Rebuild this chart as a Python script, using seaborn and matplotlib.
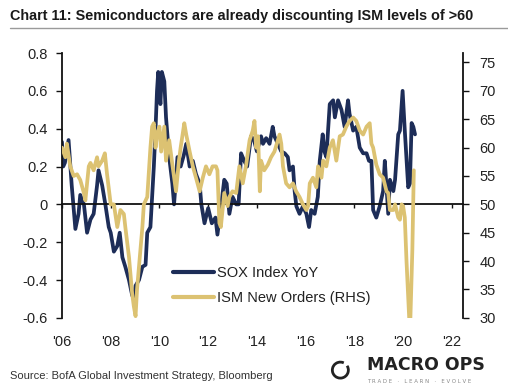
import numpy as np
import pandas as pd
import matplotlib
matplotlib.use("Agg")
import matplotlib.pyplot as plt
import seaborn as sns
from matplotlib.lines import Line2D
from matplotlib.patches import Arc
from matplotlib.ticker import FuncFormatter

sns.set_theme(style="white")
plt.rcParams['font.family'] = ['Liberation Sans', 'DejaVu Sans']

NAVY = "#1d2d58"
GOLD = "#dcc272"

# ---- data ----
sox_t = [2006.0, 2006.05, 2006.12, 2006.27, 2006.4, 2006.55, 2006.68, 2006.75, 2006.9, 2007.03,
         2007.17, 2007.3, 2007.44, 2007.5, 2007.65, 2007.78, 2007.92, 2008.0, 2008.13, 2008.27,
         2008.37, 2008.48, 2008.6, 2008.75, 2008.88, 2008.95, 2009.02, 2009.16, 2009.3, 2009.43,
         2009.5, 2009.63, 2009.77, 2009.84, 2009.9, 2009.95, 2010.04, 2010.1, 2010.2, 2010.27,
         2010.4, 2010.53, 2010.6, 2010.74, 2010.87, 2011.0, 2011.1, 2011.24, 2011.37, 2011.5,
         2011.65, 2011.72, 2011.85, 2012.0, 2012.15, 2012.3, 2012.38, 2012.52, 2012.66, 2012.76,
         2012.87, 2013.0, 2013.15, 2013.25, 2013.35, 2013.48, 2013.6, 2013.76, 2013.88, 2014.0,
         2014.17, 2014.25, 2014.38, 2014.52, 2014.65, 2014.72, 2014.86, 2015.0, 2015.14, 2015.27,
         2015.34, 2015.48, 2015.55, 2015.62, 2015.75, 2015.89, 2016.03, 2016.14, 2016.23, 2016.37,
         2016.5, 2016.58, 2016.7, 2016.77, 2016.85, 2016.99, 2017.13, 2017.2, 2017.33, 2017.47,
         2017.6, 2017.74, 2017.8, 2017.95, 2018.08, 2018.22, 2018.36, 2018.5, 2018.6, 2018.7,
         2018.77, 2018.9, 2019.04, 2019.18, 2019.25, 2019.39, 2019.46, 2019.6, 2019.67, 2019.8,
         2019.87, 2019.98, 2020.07, 2020.21, 2020.28, 2020.35, 2020.42, 2020.49]
sox_v = [0.33, 0.2, 0.22, 0.34, 0.1, -0.13, -0.05, 0.05, 0.0, -0.15,
         -0.08, -0.05, 0.1, 0.18, 0.1, 0.0, -0.12, -0.15, -0.25, -0.22,
         -0.15, -0.28, -0.33, -0.4, -0.48, -0.5, -0.43, -0.4, -0.33, -0.32,
         -0.15, -0.12, 0.2, 0.4, 0.6, 0.7, 0.53, 0.7, 0.65, 0.46,
         0.25, 0.11, 0.0, 0.25, 0.2, 0.26, 0.32, 0.2, 0.23, 0.16,
         0.11, 0.0, -0.1, -0.02, -0.1, -0.07, -0.16, -0.02, 0.13, 0.11,
         -0.05, 0.04, 0.0, 0.0, 0.27, 0.23, 0.2, 0.36, 0.34, 0.28,
         0.36, 0.32, 0.35, 0.32, 0.41, 0.36, 0.32, 0.28, 0.27, 0.25,
         0.18, 0.2, 0.07, -0.01, -0.05, -0.01, -0.05, -0.12, -0.03, -0.05,
         0.04, 0.23, 0.37, 0.28, 0.25, 0.53, 0.55, 0.46, 0.55, 0.5,
         0.41, 0.55, 0.48, 0.39, 0.41, 0.3, 0.27, 0.27, 0.23, 0.23,
         -0.03, -0.07, -0.01, 0.07, 0.23, -0.05, 0.13, 0.07, 0.13, 0.37,
         0.39, 0.6, 0.39, 0.09, 0.11, 0.43, 0.41, 0.37]

ism_t = [2006.0, 2006.14, 2006.2, 2006.34, 2006.48, 2006.62, 2006.75, 2006.9, 2006.96, 2007.1,
         2007.17, 2007.3, 2007.44, 2007.5, 2007.65, 2007.76, 2007.85, 2008.0, 2008.13, 2008.27,
         2008.4, 2008.54, 2008.6, 2008.75, 2008.88, 2008.95, 2009.02, 2009.08, 2009.16, 2009.3,
         2009.36, 2009.5, 2009.63, 2009.7, 2009.77, 2009.84, 2009.9, 2010.0, 2010.07, 2010.2,
         2010.27, 2010.4, 2010.53, 2010.68, 2010.8, 2010.87, 2011.02, 2011.1, 2011.24, 2011.37,
         2011.5, 2011.65, 2011.78, 2011.91, 2012.05, 2012.18, 2012.32, 2012.38, 2012.46, 2012.52,
         2012.66, 2012.8, 2012.87, 2013.0, 2013.15, 2013.28, 2013.42, 2013.56, 2013.7, 2013.83,
         2013.9, 2013.97, 2014.05, 2014.12, 2014.17, 2014.3, 2014.45, 2014.58, 2014.72, 2014.86,
         2014.93, 2015.0, 2015.07, 2015.2, 2015.34, 2015.48, 2015.61, 2015.75, 2015.89, 2016.03,
         2016.1, 2016.17, 2016.3, 2016.44, 2016.51, 2016.65, 2016.72, 2016.85, 2016.99, 2017.12,
         2017.26, 2017.4, 2017.53, 2017.67, 2017.8, 2017.95, 2018.08, 2018.22, 2018.36, 2018.5,
         2018.63, 2018.7, 2018.77, 2018.9, 2019.04, 2019.18, 2019.32, 2019.39, 2019.46, 2019.6,
         2019.67, 2019.8, 2019.87, 2019.94, 2020.0, 2020.07, 2020.14, 2020.25, 2020.3, 2020.38,
         2020.44]
ism_v = [60.0, 58.3, 60.7, 56.7, 55.0, 55.3, 54.3, 52.0, 50.7, 56.7,
         57.3, 56.0, 58.3, 56.7, 57.7, 59.0, 55.3, 50.0, 50.0, 46.0,
         49.0, 48.3, 46.0, 40.7, 34.3, 32.0, 30.3, 35.0, 39.0, 46.0,
         50.0, 51.3, 60.0, 63.7, 64.3, 60.0, 62.3, 63.7, 59.3, 63.7,
         57.7, 61.3, 57.0, 52.3, 57.7, 60.0, 64.3, 62.3, 59.3, 56.7,
         54.7, 52.3, 54.7, 56.7, 55.3, 56.7, 56.7, 56.0, 46.7, 46.0,
         52.0, 49.7, 51.3, 52.3, 52.0, 56.7, 53.7, 57.0, 61.3, 63.0,
         64.7, 60.0, 62.0, 52.3, 57.7, 56.0, 57.0, 58.3, 59.3, 61.3,
         62.3, 60.7, 56.7, 53.7, 53.0, 53.7, 52.3, 51.3, 50.0, 49.0,
         49.7, 53.7, 54.7, 53.0, 56.7, 54.7, 57.7, 56.7, 60.0, 61.3,
         57.7, 62.0, 62.3, 63.7, 64.7, 65.3, 64.7, 63.0, 62.3, 63.7,
         64.3, 60.7, 60.0, 57.0, 55.3, 54.7, 52.3, 52.0, 49.0, 49.0,
         50.0, 47.7, 47.3, 50.0, 49.7, 47.7, 40.0, 30.0, 30.0, 42.0,
         56.0]

year_ticks = list(range(2006, 2023, 2))
year_labels = ["'06", "'08", "'10", "'12", "'14", "'16", "'18", "'20", "'22"]
left_ticks = [-0.6, -0.4, -0.2, 0.0, 0.2, 0.4, 0.6, 0.8]
right_ticks = list(range(30, 80, 5))

sox = pd.DataFrame({"t": sox_t, "v": sox_v})
ism = pd.DataFrame({"t": ism_t, "v": ism_v})

fig = plt.figure(figsize=(5.08, 3.9), dpi=100)
ax = fig.add_axes([0.122, 0.185, 0.789, 0.679])
ax2 = ax.twinx()

sns.lineplot(data=sox, x="t", y="v", ax=ax, color=NAVY, lw=2.7, legend=False)
sns.lineplot(data=ism, x="t", y="v", ax=ax2, color=GOLD, lw=2.7, legend=False)

ax.set_xlim(2006, 2022.45)
ax.set_ylim(-0.6, 0.8)
ax2.set_ylim(30, 30 + 1.4 / 0.03)
ax.set_xlabel("")
ax.set_ylabel("")
ax2.set_ylabel("")

# spines
for s in ["top", "right"]:
    ax.spines[s].set_visible(False)
ax.spines["left"].set_color("#111")
ax.spines["left"].set_linewidth(1.3)
ax.spines["bottom"].set_position(("data", 0))
ax.spines["bottom"].set_color("#111")
ax.spines["bottom"].set_linewidth(1.3)
for s in ["top", "left", "bottom"]:
    ax2.spines[s].set_visible(False)
ax2.spines["right"].set_color("#111")
ax2.spines["right"].set_linewidth(1.3)

ax.set_xticks(year_ticks)
ax.tick_params(axis="x", bottom=True, direction="out", length=3, width=1, color="#111", labelbottom=False)
sec = ax.secondary_xaxis("bottom")
sec.set_xticks(year_ticks, labels=year_labels)
sec.tick_params(length=0, pad=12, labelsize=10.5, labelcolor="#222")
sec.spines["bottom"].set_visible(False)

ax.set_yticks(left_ticks)
ax.yaxis.set_major_formatter(FuncFormatter(lambda v, p: "0" if abs(v) < 1e-9 else f"{v:.1f}"))
ax.tick_params(axis="y", left=True, direction="out", length=4, width=1, color="#111",
               pad=6, labelsize=10.5, labelcolor="#222")
ax2.set_yticks(right_ticks)
ax2.tick_params(axis="y", right=True, direction="out", length=4, width=1, color="#111",
                pad=8, labelsize=10.5, labelcolor="#222")
ax.grid(False)
ax2.grid(False)

handles = [Line2D([], [], color=NAVY, lw=3), Line2D([], [], color=GOLD, lw=3)]
ax2.legend(handles, ["SOX Index YoY", "ISM New Orders (RHS)"], loc="lower left",
           bbox_to_anchor=(0.277, 0.05), frameon=False, handlelength=2.8,
           handletextpad=0.2, labelspacing=0.7, fontsize=10.5, borderpad=0,
           borderaxespad=0, labelcolor="#222")

# title and underline
fig.text(0.02, 0.958, "Chart 11: Semiconductors are already discounting ISM levels of >60",
         fontsize=10.4, fontweight="bold", va="center", color="#1a1a1a")
fig.add_artist(Line2D([0.02, 1.0], [0.928, 0.928], transform=fig.transFigure, color="#9a9a9a", lw=1))

# source
fig.text(0.02, 0.036, "Source: BofA Global Investment Strategy, Bloomberg", fontsize=8.0,
         va="center", color="#333")

# logo
fig.add_artist(Arc((0.670, 0.051), 0.0315, 0.041, theta1=70, theta2=400,
                   transform=fig.transFigure, color="#222", lw=2))
fig.text(0.722, 0.064, "MACRO OPS", fontsize=12.5, fontweight="bold", va="center", color="#222",
         family=["DejaVu Sans"])
fig.text(0.722, 0.022, "T R A D E   ·   L E A R N   ·   E V O L V E", fontsize=3.9,
         va="center", color="#888", family=["DejaVu Sans"])

fig.savefig("out.png", dpi=100)
